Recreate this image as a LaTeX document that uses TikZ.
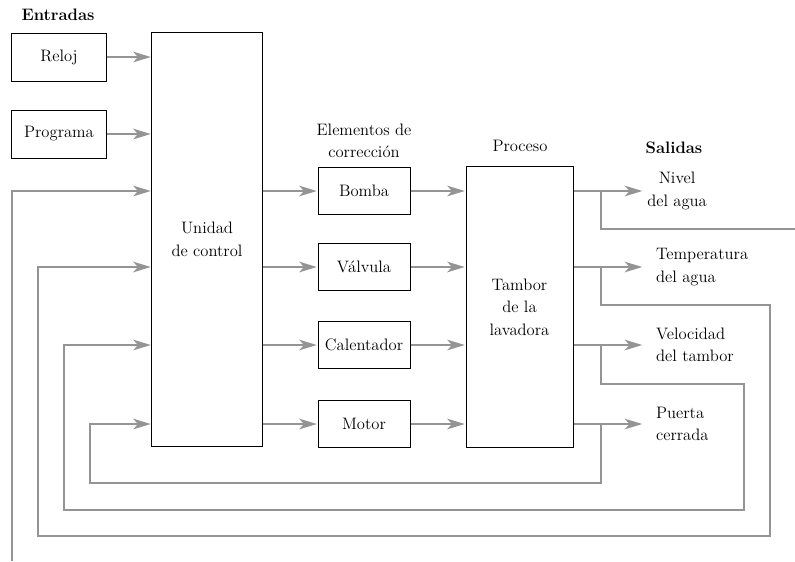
\documentclass[tikz,border=0pt]{standalone}
\usepackage{amsmath}
\usepackage{tikz}
\usetikzlibrary{arrows.meta,calc,positioning}

\definecolor{linegray}{gray}{0.58}

\begin{document}
\begin{tikzpicture}[x=0.025cm,y=-0.025cm,
    font=\fontsize{11.8}{16}\selectfont,
    box/.style={draw,line width=0.7pt,align=center,inner sep=0pt},
    small/.style={box,minimum width=2.3cm,minimum height=1.175cm},
    flow/.style={draw=linegray,line width=1.9pt,shorten >=0.5pt,
      -{Stealth[length=12.5pt,width=7.5pt,inset=3.5pt]}},
    link/.style={draw=linegray,line width=1.9pt},
    outlabel/.style={align=left,inner sep=0pt}]
  \useasboundingbox (0,0) rectangle (795,561);
  % entradas
  \node[font=\fontsize{11.8}{16}\selectfont\bfseries] (entradas) at (58,15) {Entradas};
  \node[box,minimum width=2.35cm,minimum height=1.2cm] (reloj) at (59,57) {Reloj};
  \node[box,minimum width=2.35cm,minimum height=1.2cm] (programa) at (59,134) {Programa};
  \node[box,minimum width=2.75cm,minimum height=10.325cm] (control) at (207,239.5) {Unidad\\de control};
  % elementos de correccion
  \node[small] (bomba) at (364,191) {Bomba};
  \node[small] (valvula) at (364,267) {Válvula};
  \node[small] (calentador) at (364,345) {Calentador};
  \node[small] (motor) at (364,424) {Motor};
  \node[align=center,inner sep=0pt] (elementos) at (364,141) {Elementos de\\corrección};
  % proceso
  \node[box,minimum width=2.675cm,minimum height=7cm] (tambor) at (519.5,307) {Tambor\\de la\\lavadora};
  \node (proceso) at (520,146) {Proceso};
  \node[font=\fontsize{11.8}{16}\selectfont\bfseries] (salidas) at (674,148) {Salidas};
  % salidas
  \coordinate (o1) at (643,191);
  \coordinate (o2) at (643,267);
  \coordinate (o3) at (643,345);
  \coordinate (o4) at (643,424);
  \node[outlabel,align=center,right=0.1cm of o1] (nivel) {Nivel\\del agua};
  \node[outlabel,right=0.32cm of o2] (temperatura) {Temperatura\\del agua};
  \node[outlabel,right=0.32cm of o3] (velocidad) {Velocidad\\del tambor};
  \node[outlabel,right=0.32cm of o4] (puerta) {Puerta\\cerrada};
  % flechas
  \draw[flow] (reloj) -- (control.west |- reloj);
  \draw[flow] (programa) -- (control.west |- programa);
  \foreach \e in {bomba,valvula,calentador,motor} {
    \draw[flow] (control.east |- \e) -- (\e);
    \draw[flow] (\e) -- (tambor.west |- \e);
  }
  \foreach \o in {o1,o2,o3,o4}
    \draw[flow] (tambor.east |- \o) -- (\o);
  % realimentacion
  \coordinate (b1) at (601,191);
  \coordinate (b2) at (601,267);
  \coordinate (b3) at (601,345);
  \coordinate (b4) at (601,424);
  \coordinate (cut1) at (795,229);
  \coordinate (cut2) at (12,561);
  \draw[link] (b1) |- (cut1);
  \draw[flow] (cut2) |- (control.west |- bomba);
  \draw[flow] (b2) |- (770,305) |- (38,536) |- (control.west |- valvula);
  \draw[flow] (b3) |- (744,384) |- (64,510) |- (control.west |- calentador);
  \draw[flow] (b4) |- (90,483) |- (control.west |- motor);
\end{tikzpicture}
\end{document}
